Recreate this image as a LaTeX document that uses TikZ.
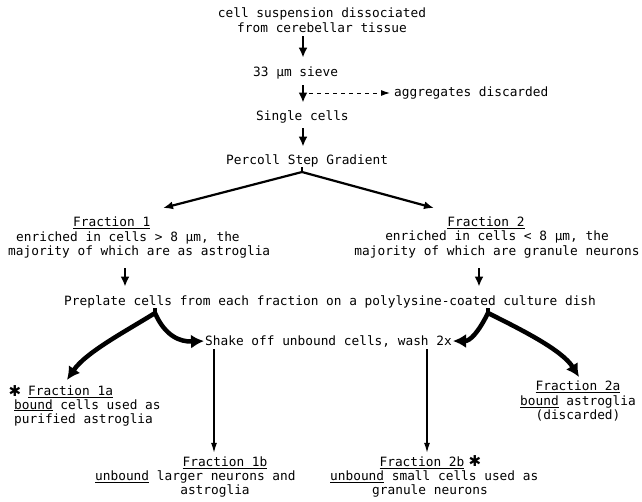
\documentclass[tikz,border=0pt]{standalone}
\usepackage{fontspec}
\setmonofont{DejaVu Sans Mono}
\newfontfamily\symf{DejaVu Sans}
\usetikzlibrary{arrows.meta}
\begin{document}
\begin{tikzpicture}[x=1pt,y=-1pt,
  txt/.style={inner sep=0pt, font=\ttfamily\fontsize{12.8}{14.5}\selectfont},
  star/.style={inner sep=0pt, font=\symf\bfseries\fontsize{15}{15}\selectfont},
  tharr/.style={line width=2.8pt, -{Latex[length=10pt,width=9pt]}},
  medline/.style={line width=2.2pt},
  medarr/.style={line width=2.2pt, -{Latex[length=10pt,width=8pt]}},
  bigline/.style={line width=4.5pt},
  bigarr/.style={line width=4.5pt, -{Latex[length=13pt,width=14pt]}},
  thinarr/.style={line width=1.3pt, -{Latex[length=10pt,width=6pt]}},
  dasharr/.style={line width=1pt, dash pattern=on 4pt off 4pt, -{Latex[length=9pt,width=6pt]}}
]
\useasboundingbox (0,0) rectangle (642,501);
\fill[white] (0,0) rectangle (642,501);

% top chain
\node[txt, align=center] (src) at (322,20) {cell suspension dissociated\\from cerebellar tissue};
\node[txt, anchor=west] (sieve) at (253,73) {33 μm sieve};
\node[txt, anchor=west] (aggr) at (394,93) {aggregates discarded};
\node[txt, anchor=west] (single) at (256,117) {Single cells};
\node[txt, anchor=west] (percoll) at (226,161) {Percoll Step Gradient};

\coordinate (ax) at (303,0);
\coordinate (dsh) at (309,93);
\coordinate (P) at (302,172);
\coordinate (t1) at (163,208);
\coordinate (t2) at (434,208);

\draw[tharr, shorten <=4pt, shorten >=9pt] (src.south -| ax) -- (sieve.north -| ax);
\draw[tharr, shorten <=6pt, shorten >=8pt] (sieve.south -| ax) -- (single.north -| ax);
\draw[dasharr, shorten >=4pt] (dsh) -- (aggr.west);
\draw[tharr, shorten <=5pt, shorten >=8pt] (single.south -| ax) -- (percoll.north -| ax);
\draw[medline] (percoll.south -| P) -- (P);
\draw[medarr] (P) -- (t1);
\draw[medarr] (P) -- (t2);

% fractions 1 and 2
\node[txt, anchor=west] (f1) at (73,223) {\underline{Fraction 1}};
\node[txt, anchor=west] (f1d1) at (16,238) {enriched in cells > 8 μm, the};
\node[txt, anchor=west] (f1d2) at (8,252) {majority of which are as astroglia};
\node[txt] (f2) at (486,223) {\underline{Fraction 2}};
\node[txt, align=center, anchor=north] (f2d) at (497,231) {enriched in cells < 8 μm, the\\majority of which are granule neurons};

\node[txt, anchor=west] (pre) at (64,302) {Preplate cells from each fraction on a polylysine-coated culture dish};

\coordinate (c1) at (125,0);
\coordinate (c2) at (479,0);
\draw[tharr, shorten <=10pt, shorten >=9pt] (f1d2.south -| c1) -- (pre.north -| c1);
\draw[tharr, shorten <=10pt, shorten >=9pt] (f2d.south -| c2) -- (pre.north -| c2);

% preplate branches
\node[txt, anchor=west] (shake) at (205,341) {Shake off unbound cells, wash 2x};
\coordinate (B1) at (155,313);
\coordinate (B2) at (488,313);
\coordinate (L1) at (67,380);
\coordinate (R1) at (579,377);
\draw[bigline] (pre.south -| B1) -- (B1);
\draw[bigline] (pre.south -| B2) -- (B2);
\draw[bigarr] (B1) .. controls (128,330) and (86,352) .. (L1);
\draw[bigarr, shorten >=1pt] (B1) .. controls (165,336) and (180,342) .. (shake.west);
\draw[bigarr, shorten >=1pt] (B2) .. controls (478,333) and (470,341) .. (shake.east);
\draw[bigarr] (B2) .. controls (522,330) and (562,350) .. (R1);

% fraction 1a / 2a
\node[star] (s1) at (15,391) {✱};
\node[txt, anchor=west] (f1a) at (28,392) {\underline{Fraction 1a}};
\node[txt, align=left, anchor=north west] (f1ad) at (14,399) {\underline{bound} cells used as\\purified astroglia};
\node[txt, align=center, anchor=north] (f2a) at (578,381) {\underline{Fraction 2a}\\\underline{bound} astroglia\\(discarded)};

% fraction 1b / 2b
\node[txt] (f1b) at (225,463) {\underline{Fraction 1b}};
\node[txt, anchor=west] (f1bd) at (95,477) {\underline{unbound} larger neurons and};
\node[txt] (f1bd2) at (215,491) {astroglia};
\node[txt] (f2b) at (422,463) {\underline{Fraction 2b}};
\node[star] (s2) at (475,461) {✱};
\node[txt, anchor=west] (f2bd) at (330,477) {\underline{unbound} small cells used as};
\node[txt] (f2bd2) at (430,491) {granule neurons};

\coordinate (v1) at (214,0);
\coordinate (v2) at (427,0);
\draw[thinarr, shorten <=2pt, shorten >=4pt] (shake.south -| v1) -- (f1b.north -| v1);
\draw[thinarr, shorten <=2pt, shorten >=4pt] (shake.south -| v2) -- (f2b.north -| v2);
\end{tikzpicture}
\end{document}
